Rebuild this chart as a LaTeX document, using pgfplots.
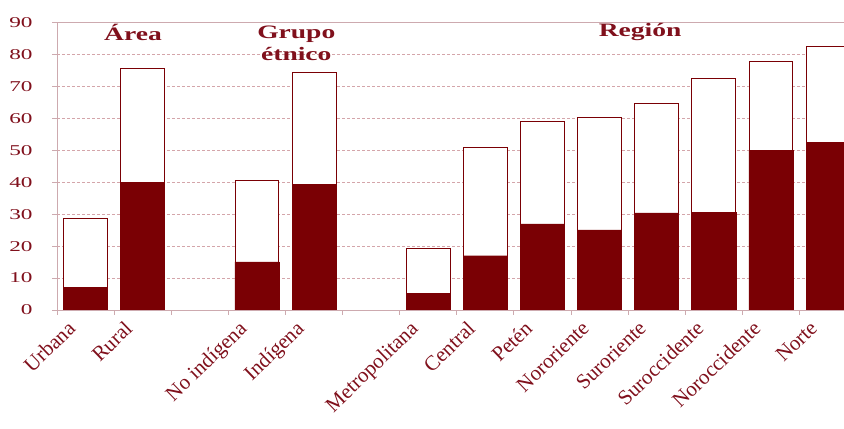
\documentclass[border=0pt]{standalone}
\usepackage{fontspec}
\setmainfont{Liberation Serif}
\usepackage{pgfplots}
\usepackage{pgfplotstable}
\pgfplotsset{compat=1.18}
\usetikzlibrary{calc}

\definecolor{vino}{RGB}{122,0,4}
\definecolor{vinotxt}{RGB}{128,16,28}
\definecolor{rejilla}{RGB}{212,165,170}
\definecolor{eje}{RGB}{205,170,175}

% x total parte
\pgfplotstableread{
x  total parte
0  28.7  7.1
1  75.7  40.0
3  40.7  15.1
4  74.3  39.3
6  19.3  5.2
7  50.9  17.0
8  59.2  27.0
9  60.3  25.1
10 64.6  30.4
11 72.4  30.6
12 78.0  50.1
13 82.5  52.6
}\datos

\begin{document}
\begin{tikzpicture}
\begin{axis}[
    name=ax,
    scale only axis,
    width=787pt, height=287.3pt,
    xmin=-0.5, xmax=13.28,
    ymin=0, ymax=90,
    axis x line*=bottom, axis y line*=left,
    axis line style={draw=eje, line width=0.8pt},
    ytick={0,10,...,90},
    ymajorgrids,
    grid style={densely dashed, rejilla, line width=0.6pt},
    tick align=outside,
    major tick length=5pt,
    tick style={draw=eje, line width=0.8pt},
    /pgf/number format/assume math mode=true,
    yticklabel style={font=\fontsize{15}{15}\selectfont, text=vinotxt, xscale=1.55, xshift=-9pt},
    xtick={-0.5,0.5,...,12.5},
    xticklabels={},
    extra x ticks={0,1,3,4,6,7,8,9,10,11,12,13},
    extra x tick labels={Urbana,Rural,No indígena,Indígena,Metropolitana,Central,Petén,Nororiente,Suroriente,Suroccidente,Noroccidente,Norte},
    extra x tick style={
        tick style={draw=none},
        xticklabel style={font=\fontsize{21}{21}\selectfont, text=vinotxt,
            rotate=44, anchor=north east, inner sep=1pt,
            xshift=-16pt, yshift=11pt},
    },
    ybar,
    bar width=0.77,
]
\addplot[bar shift=0pt, fill=white, draw=vino, line width=0.8pt] table[x=x, y=total] {\datos};
\addplot[bar shift=0pt, fill=vino, draw=vino, line width=0.4pt] table[x=x, y=parte] {\datos};

\draw[eje, line width=0.8pt] (rel axis cs:0,1) -- (rel axis cs:1,1);

\node[font=\fontsize{19}{19}\selectfont\bfseries, text=vinotxt, xscale=1.45] at (axis cs:0.83,87) {Área};
\node[font=\fontsize{19}{22}\selectfont\bfseries, text=vinotxt, xscale=1.45, align=center] at (axis cs:3.69,83.6) {Grupo\\étnico};
\node[font=\fontsize{19}{19}\selectfont\bfseries, text=vinotxt, xscale=1.45] at (axis cs:9.71,87) {Región};
\end{axis}
\pgfresetboundingbox
\path[use as bounding box] ($(ax.south west)+(-57pt,-119pt)$) rectangle ($(ax.north east)+(0pt,22.7pt)$);
\end{tikzpicture}
\end{document}
